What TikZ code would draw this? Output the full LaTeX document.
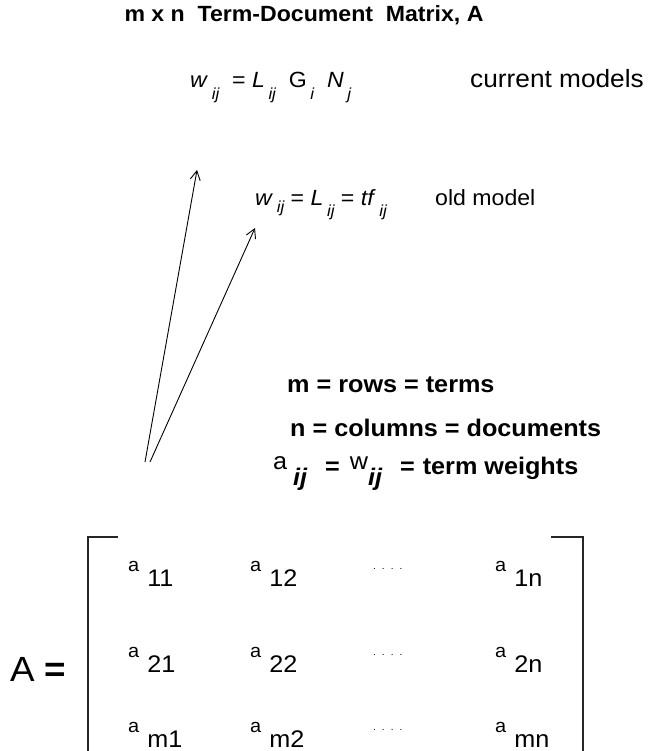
\documentclass[tikz,border=0pt]{standalone}
\usepackage{fontspec}
\setmainfont{Liberation Sans}
\newfontfamily\widesf{Liberation Sans}[FakeStretch=1.05]
\usetikzlibrary{arrows.meta,positioning}
\newcommand{\dropsub}[2][12pt]{\raisebox{-#1}{\fontsize{16}{16}\selectfont\itshape #2}}
\newcommand{\entrytext}[1]{\raisebox{15pt}{\fontsize{19}{19}\selectfont a}\hspace{8pt}#1}
\tikzset{
  titlelabel/.style={
    font=\widesf\bfseries\fontsize{22}{26}\selectfont,
    inner sep=0pt
  },
  factlabel/.style={
    font=\widesf\bfseries\fontsize{24}{28}\selectfont,
    anchor=base west, inner sep=0pt
  },
  formula/.style={
    font=\widesf\fontsize{22}{26}\selectfont,
    anchor=base west, inner sep=0pt
  },
  entry/.style={
    font=\widesf\fontsize{24}{28}\selectfont,
    anchor=base west, inner sep=0pt
  },
  dotrow/.style={
    font=\fontsize{10}{10}\selectfont,
    anchor=base west, inner sep=0pt
  },
  pointer/.style={
    -{Straight Barb[length=9pt,width=10pt]}, line width=0.9pt
  },
  bracketline/.style={line width=1.8pt, color=black!85},
}

\begin{document}
\begin{tikzpicture}[x=1pt,y=-1pt]
  \useasboundingbox (0,0) rectangle (665,751);
  % heading
  \node[titlelabel] (title) at (304,15) {m x n\ \ Term-Document\ \ Matrix, A};

  % weighting formulas
  \node[formula] (curr) at (190,88)
    {\textit{w}\,\dropsub{ij}\ \ = \textit{L}\,\dropsub{ij}\ \
     G\,\dropsub{i}\ \ \textit{N}\,\dropsub{j}};
  \node[formula, font=\widesf\fontsize{25}{29}\selectfont] (currnote) at (470,88)
    {current models};
  \node[formula] (old) at (255,205)
    {\textit{w}\,\dropsub[7pt]{ij} = \textit{L}\,\dropsub{ij} = \textit{tf}\,\dropsub{ij}};
  \node[formula] (oldnote) at (435,205) {old model};

  % what the matrix holds
  \node[factlabel] (rows) at (287,392) {m = rows = terms};
  \node[factlabel] (cols) at (290,436) {n = columns = documents};
  \node[factlabel] (wts) at (273,474)
    {{\mdseries\raisebox{5pt}{a}}\hspace{6pt}\raisebox{-11pt}{\itshape ij}\hspace{18pt}=\hspace{10pt}%
     {\mdseries\raisebox{5pt}{w}}\raisebox{-11pt}{\itshape ij}\hspace{18pt}=\hspace{8pt}term weights};

  % the matrix
  \node[entry, font=\widesf\fontsize{35}{40}\selectfont] (lhs) at (10,681)
    {A \textbf{=}};
  \foreach \r/\y in {1/586,2/672,m/747} {
    \foreach \c/\x in {1/128,2/250,n/495}
      \node[entry] (a\r\c) at (\x,\y) {\entrytext{\r\c}};
    \node[dotrow] (dots\r) at (373,\y-17) {.\hspace{6pt}.\hspace{6pt}.\hspace{6pt}.};
  }
  \coordinate (ltop) at (88,537);
  \coordinate (rtop) at (583,537);
  \draw[bracketline] ([xshift=30pt]ltop) -- (ltop) -- (ltop |- 0,751);
  \draw[bracketline] ([xshift=-32pt]rtop) -- (rtop) -- (rtop |- 0,751);

  % arrows up to the weights
  \coordinate (srccurr) at (145,462);
  \coordinate (srcold) at (150,462);
  \coordinate (tipcurr) at (197,170);
  \coordinate (tipold) at (255,228);
  \draw[pointer] (srccurr) -- (tipcurr);
  \draw[pointer] (srcold) -- (tipold);
\end{tikzpicture}
\end{document}
